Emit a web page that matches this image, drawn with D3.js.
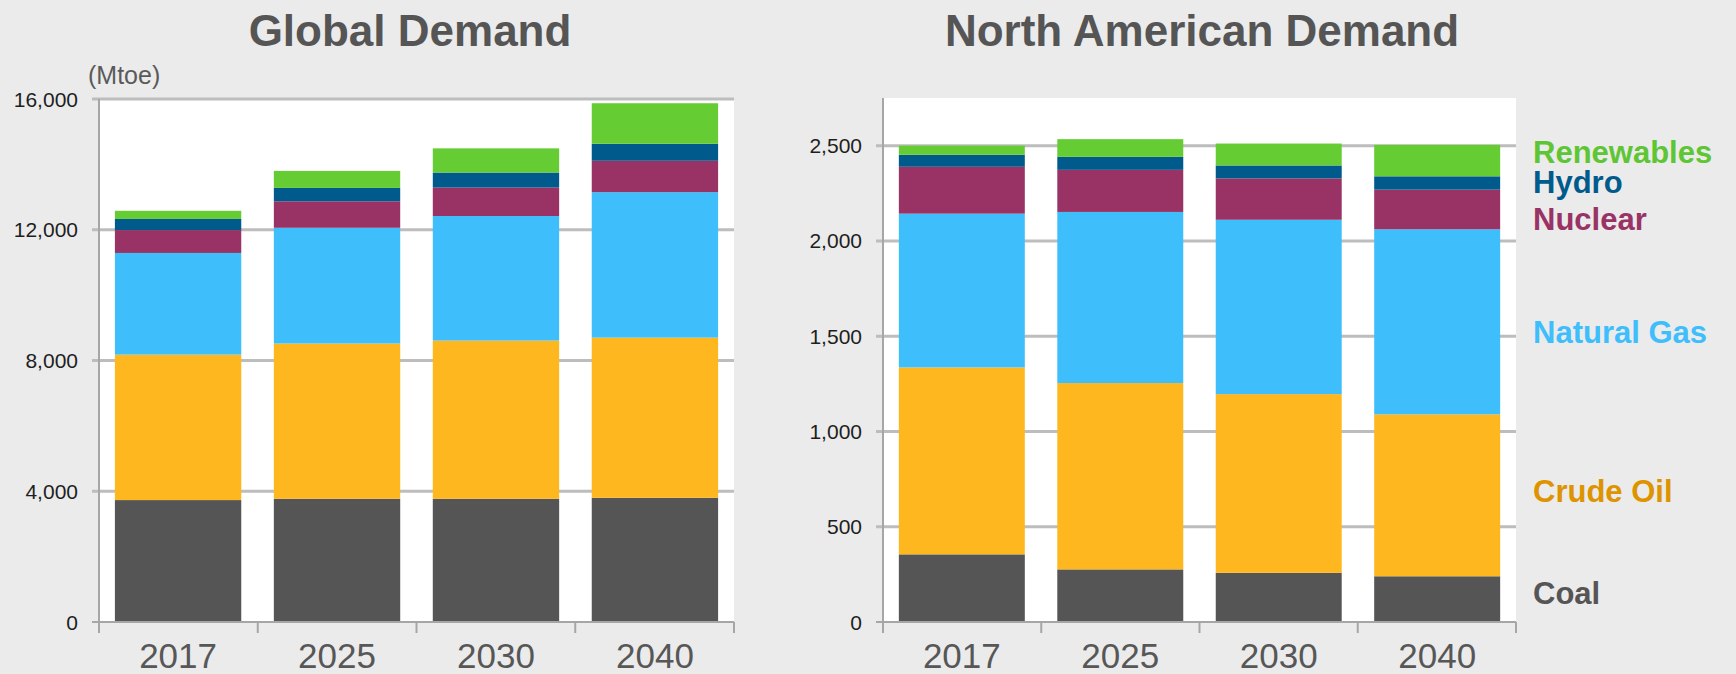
<!DOCTYPE html>
<html>
<head>
<meta charset="utf-8">
<script src="https://cdn.jsdelivr.net/npm/d3@7"></script>
<style>
  html, body { margin: 0; padding: 0; background: #ebebeb; }
  svg { display: block; font-family: "Liberation Sans", Arial, sans-serif; }
</style>
</head>
<body>
<svg id="chart" width="1736" height="674"></svg>
<script>
// ---------- data ----------
const years = ["2017", "2025", "2030", "2040"];
const seriesNames = ["Coal", "Crude Oil", "Natural Gas", "Nuclear", "Hydro", "Renewables"];

const globalCoal      = [3730, 3770, 3770, 3800];
const globalOil       = [4450, 4750, 4840, 4900];
const globalGas       = [3110, 3540, 3810, 4450];
const globalNuclear   = [700, 810, 870, 960];
const globalHydro     = [340, 410, 460, 520];
const globalRenew     = [250, 520, 740, 1240];

const naCoal    = [355, 276, 258, 240];
const naOil     = [981, 978, 938, 850];
const naGas     = [807, 898, 915, 971];
const naNuclear = [246, 221, 217, 208];
const naHydro   = [63, 68, 68, 70];
const naRenew   = [48, 93, 115, 165];

const globalTicks = [0, 4000, 8000, 12000, 16000];
const naTicks = [0, 500, 1000, 1500, 2000, 2500];

// ---------- styles ----------
const barColors = {
  "Coal": "#555555",
  "Crude Oil": "#ffb71f",
  "Natural Gas": "#3fbefc",
  "Nuclear": "#993366",
  "Hydro": "#005a8c",
  "Renewables": "#66cc33"
};
const legendColors = {
  "Coal": "#555555",
  "Crude Oil": "#dd9400",
  "Natural Gas": "#3fbefc",
  "Nuclear": "#993366",
  "Hydro": "#005a8c",
  "Renewables": "#5ec534"
};

const svg = d3.select("#chart");
const fmt = d3.format(",");

function buildRows(arrs) {
  return years.map((y, i) => {
    const r = { year: y };
    seriesNames.forEach((s, k) => r[s] = arrs[k][i]);
    return r;
  });
}

function drawPanel(opts) {
  const { left, right, top, bottom, domainMax, ticks, rows, title, titleX } = opts;
  const g = svg.append("g");

  // white plot area
  g.append("rect")
    .attr("x", left).attr("y", top)
    .attr("width", right - left).attr("height", bottom - top)
    .attr("fill", "#ffffff");

  const x = d3.scaleBand().domain(years).range([left, right])
    .paddingInner(0.205).paddingOuter(0.1);
  const xb = d3.scaleBand().domain(years).range([left, right]).padding(0);
  const y = d3.scaleLinear().domain([0, domainMax]).range([bottom, top]);

  // gridlines + y tick marks
  g.append("g").selectAll("line").data(ticks.filter(t => t > 0)).join("line")
    .attr("x1", left - 7).attr("x2", right)
    .attr("y1", d => y(d)).attr("y2", d => y(d))
    .attr("stroke", "#bdbdbd").attr("stroke-width", 3);

  // stacked bars
  const stack = d3.stack().keys(seriesNames);
  const layers = stack(rows);
  g.append("g").selectAll("g").data(layers).join("g")
    .attr("fill", d => barColors[d.key])
    .selectAll("rect").data(d => d).join("rect")
    .attr("x", d => x(d.data.year))
    .attr("width", x.bandwidth())
    .attr("y", d => y(d[1]))
    .attr("height", d => y(d[0]) - y(d[1]));

  // y axis line
  g.append("line")
    .attr("x1", left).attr("x2", left)
    .attr("y1", top).attr("y2", bottom + 1)
    .attr("stroke", "#a6a6a6").attr("stroke-width", 2);
  // zero tick
  g.append("line")
    .attr("x1", left - 7).attr("x2", left)
    .attr("y1", bottom).attr("y2", bottom)
    .attr("stroke", "#a6a6a6").attr("stroke-width", 2);

  // x axis line
  g.append("line")
    .attr("x1", left).attr("x2", right)
    .attr("y1", bottom).attr("y2", bottom)
    .attr("stroke", "#a6a6a6").attr("stroke-width", 2);
  // category boundary ticks
  const bounds = years.map(d => xb(d)).concat([right]);
  g.append("g").selectAll("line").data(bounds).join("line")
    .attr("x1", d => d).attr("x2", d => d)
    .attr("y1", bottom).attr("y2", bottom + 11)
    .attr("stroke", "#a6a6a6").attr("stroke-width", 2);

  // y tick labels
  g.append("g").selectAll("text").data(ticks).join("text")
    .attr("x", left - 21)
    .attr("y", d => y(d))
    .attr("dy", "0.36em")
    .attr("text-anchor", "end")
    .attr("font-size", 21)
    .attr("fill", "#1e1e1e")
    .text(d => fmt(d));

  // x labels
  g.append("g").selectAll("text").data(years).join("text")
    .attr("x", d => x(d) + x.bandwidth() / 2)
    .attr("y", 668)
    .attr("text-anchor", "middle")
    .attr("font-size", 35)
    .attr("fill", "#575757")
    .text(d => d);

  // title
  g.append("text")
    .attr("x", titleX).attr("y", 46)
    .attr("text-anchor", "middle")
    .attr("font-size", 44)
    .attr("font-weight", "bold")
    .attr("fill", "#555555")
    .text(title);

  return { x, y };
}

const globalRows = buildRows([globalCoal, globalOil, globalGas, globalNuclear, globalHydro, globalRenew]);
const naRows = buildRows([naCoal, naOil, naGas, naNuclear, naHydro, naRenew]);

drawPanel({
  left: 99, right: 734, top: 99, bottom: 622,
  domainMax: 16000, ticks: globalTicks, rows: globalRows,
  title: "Global Demand", titleX: 410
});

drawPanel({
  left: 883, right: 1516, top: 98, bottom: 622,
  domainMax: 2750, ticks: naTicks, rows: naRows,
  title: "North American Demand", titleX: 1202
});

// unit label
svg.append("text")
  .attr("x", 88).attr("y", 84)
  .attr("font-size", 25)
  .attr("fill", "#5a5a5a")
  .text("(Mtoe)");

// legend (right side)
const legendBaselines = {
  "Renewables": 163, "Hydro": 193, "Nuclear": 230,
  "Natural Gas": 343, "Crude Oil": 502, "Coal": 604
};
svg.append("g").selectAll("text").data(seriesNames.slice().reverse()).join("text")
  .attr("x", 1533)
  .attr("y", d => legendBaselines[d])
  .attr("font-size", 31)
  .attr("font-weight", "bold")
  .attr("fill", d => legendColors[d])
  .text(d => d);
</script>
</body>
</html>
